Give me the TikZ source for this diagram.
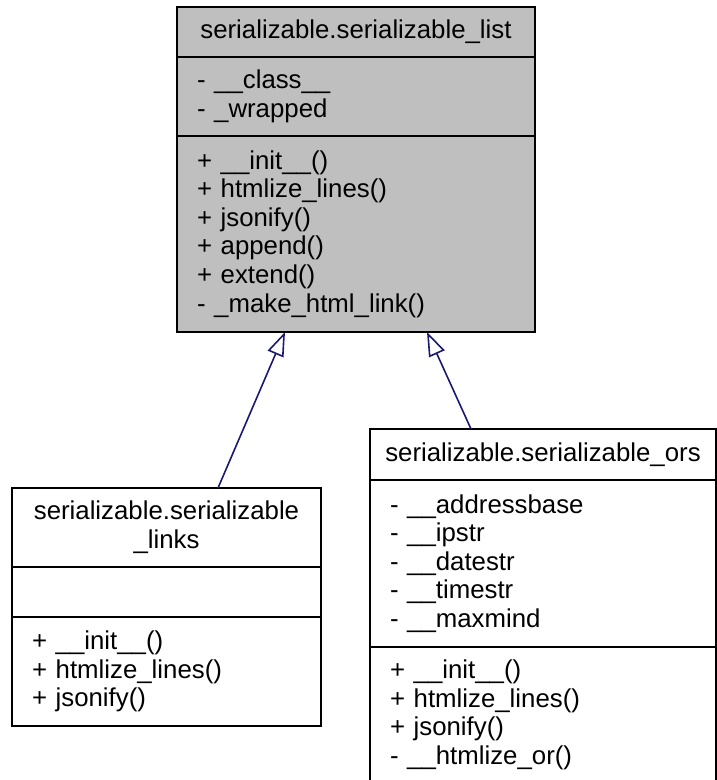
\documentclass[tikz,border=0pt]{standalone}
\usepackage{fontspec}
\setmainfont{Liberation Sans}
\usetikzlibrary{arrows.meta, positioning, calc}
\definecolor{cgray}{RGB}{191,191,191}
\definecolor{mnavy}{RGB}{25,25,112}

\begin{document}
\begin{tikzpicture}[x=1pt,y=-1pt,
  cls/.style={draw,line width=1.8pt,inner sep=0pt,outer sep=0pt,align=center,
              font=\fontsize{25.8pt}{28.6pt}\selectfont},
  sec/.style={cls,align=left,inner xsep=20pt},
  inh/.style={-{Triangle[open,length=24pt,width=17pt]},mnavy,line width=1.6pt}
]
\useasboundingbox (0,0) rectangle (717,780);
% base class
\node[cls,fill=cgray,minimum width=358pt,minimum height=50pt] (listname) at (356,32) {serializable.serializable\_list};
\node[sec,fill=cgray,text width=318pt,minimum height=79pt,below=0pt of listname] (listattr) {- \_\_class\_\_\\- \_wrapped};
\node[sec,fill=cgray,text width=318pt,minimum height=196pt,below=0pt of listattr] (listops) {+ \_\_init\_\_()\\+ htmlize\_lines()\\+ jsonify()\\+ append()\\+ extend()\\- \_make\_html\_link()};
% derived classes
\node[cls,fill=white,minimum width=309pt,minimum height=79pt] (linksname) at (166.5,527.5) {serializable.serializable\\\_links};
\node[sec,text width=269pt,minimum height=50pt,below=0pt of linksname] (linksattr) {};
\node[sec,text width=269pt,minimum height=109pt,below=0pt of linksattr] (linksops) {+ \_\_init\_\_()\\+ htmlize\_lines()\\+ jsonify()};
\node[cls,fill=white,minimum width=346pt,minimum height=51pt] (orsname) at (543,454.5) {serializable.serializable\_ors};
\node[sec,text width=306pt,minimum height=167pt,below=0pt of orsname] (orsattr) {- \_\_addressbase\\- \_\_ipstr\\- \_\_datestr\\- \_\_timestr\\- \_\_maxmind};
\node[sec,text width=306pt,minimum height=136pt,below=0pt of orsattr] (orsops) {+ \_\_init\_\_()\\+ htmlize\_lines()\\+ jsonify()\\- \_\_htmlize\_or()};
\draw[inh] ($(linksname.north)+(51.5,0)$) -- ($(listops.south)+(-71,0)$);
\draw[inh] ($(orsname.north)+(-72,0)$) -- ($(listops.south)+(71,0)$);
\end{tikzpicture}
\end{document}
